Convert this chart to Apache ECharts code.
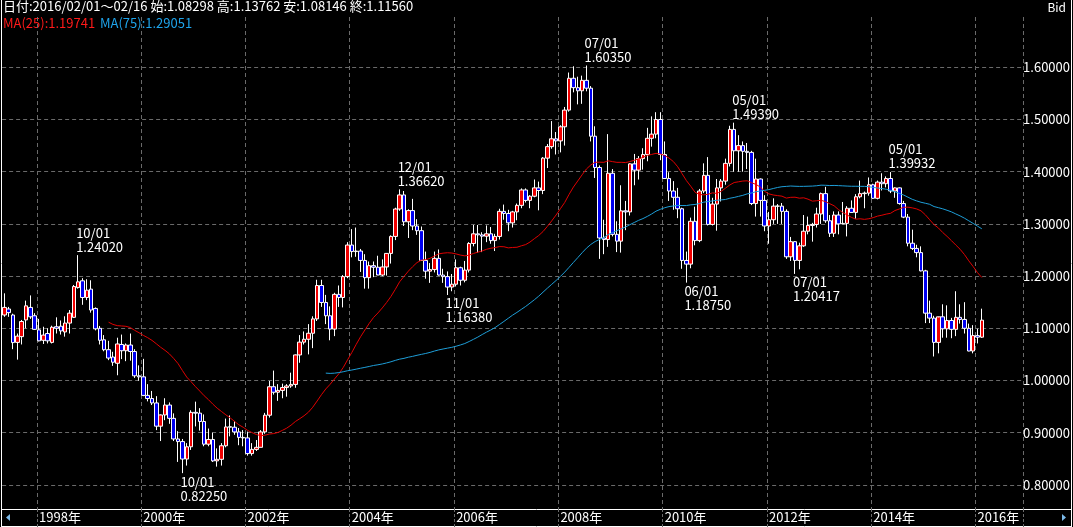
<!DOCTYPE html>
<html><head><meta charset="utf-8">
<script src="https://cdn.jsdelivr.net/npm/echarts@6/dist/echarts.min.js"></script>
<style>html,body{margin:0;padding:0;background:#000;}#c{width:1073px;height:527px;}</style>
</head><body><div id="c"></div>
<script>
// ---- categories: monthly, 1997/05 .. 2016/02 (data) + empty months to fill the plot ----
const START_YEAR = 1997, START_MONTH = 5, N_CATS = 235;
const months = [];
for (let k = 0; k < N_CATS; k++) {
  const m = START_MONTH - 1 + k;
  months.push((START_YEAR + Math.floor(m / 12)) + '/' + String(m % 12 + 1).padStart(2, '0'));
}

// ---- monthly OHLC (EUR/USD Bid) ----
const opens = [
1.1255,1.1370,1.1255,1.0730,1.0840,1.1160,1.1400,1.1240,1.0970,1.0770,1.0900,1.0730,1.1030,1.1040,1.0930,1.1100,1.1210,1.1780,1.1910,1.1590,
1.1750,1.1380,1.1000,1.0780,1.0590,1.0450,1.0330,1.0690,1.0570,1.0680,1.0555,1.0090,
1.0070,0.9715,0.9655,0.9570,0.9125,0.9340,0.9530,0.9275,0.8880,0.8830,0.8495,0.8730,
0.9390,0.9375,0.9215,0.8780,0.8870,0.8460,0.8490,0.8750,0.9115,0.9105,0.9015,0.8910,
0.8900,0.8600,0.8680,0.8720,0.9015,0.9335,0.9880,0.9775,0.9810,0.9865,0.9895,0.9925,
1.0490,1.0735,1.0790,1.0905,1.1180,1.1820,1.1495,1.1240,1.0985,1.1650,1.1590,1.1990,
1.2595,1.2470,1.2480,1.2300,1.1970,1.2200,1.2170,1.2020,1.2175,1.2435,1.2760,1.3285,
1.3555,1.3040,1.3255,1.2960,1.2870,1.2300,1.2095,1.2125,1.2340,1.2020,1.1990,1.1790,
1.1845,1.2160,1.1920,1.2115,1.2625,1.2810,1.2790,1.2765,1.2810,1.2680,1.2760,1.3240,
1.3200,1.3020,1.3230,1.3355,1.3650,1.3450,1.3530,1.3690,1.3640,1.4260,1.4480,1.4630,
1.4590,1.4860,1.5180,1.5790,1.5610,1.5550,1.5750,1.5600,1.4680,1.4080,1.2730,1.2700,
1.3970,1.2800,1.2670,1.3250,1.3230,1.4150,1.4030,1.4250,1.4330,1.4640,1.4720,1.5000,
1.4330,1.3870,1.3630,1.3510,1.3290,1.2300,1.2230,1.3050,1.2680,1.3630,1.3930,1.2990,
1.3380,1.3690,1.3820,1.4160,1.4810,1.4400,1.4500,1.4390,1.4370,1.3390,1.3860,1.3450,
1.2960,1.3080,1.3340,1.3340,1.3240,1.2370,1.2660,1.2300,1.2580,1.2860,1.2970,1.2990,
1.3190,1.3580,1.3060,1.2820,1.3170,1.3000,1.3010,1.3300,1.3220,1.3520,1.3580,1.3590,
1.3750,1.3490,1.3800,1.3770,1.3870,1.3630,1.3690,1.3390,1.3130,1.2630,1.2530,1.2450,
1.2100,1.1290,1.1195,1.0730,1.1220,1.0990,1.1150,1.0980,1.1210,1.1170,1.1000,1.0565,
1.0860,1.08298];
const highs = [
1.1670,1.1410,1.1280,1.0900,1.1160,1.1530,1.1630,1.1290,1.1180,1.1030,1.1000,1.1050,1.1210,1.1150,1.1230,1.1350,1.1830,1.2402,1.1960,1.1940,
1.1920,1.1400,1.1045,1.0870,1.0760,1.0550,1.0820,1.0880,1.0710,1.0900,1.0600,1.0290,
1.0415,0.9930,0.9800,0.9700,0.9350,0.9660,0.9580,0.9370,0.9030,0.8880,0.8800,0.9430,
0.9595,0.9470,0.9350,0.9080,0.9000,0.8700,0.8800,0.9270,0.9330,0.9220,0.9090,0.9050,
0.9020,0.8800,0.8860,0.9050,0.9380,0.9990,1.0190,0.9930,0.9940,0.9930,1.0150,1.0500,
1.0870,1.0940,1.1080,1.1230,1.1930,1.1930,1.1640,1.1420,1.1680,1.1820,1.2020,1.2650,
1.2900,1.2930,1.2520,1.2420,1.2280,1.2280,1.2390,1.2320,1.2440,1.2780,1.3310,1.3662,
1.3630,1.3280,1.3480,1.3090,1.2950,1.2470,1.2250,1.2470,1.2510,1.2140,1.2090,1.2040,
1.2320,1.2180,1.2290,1.2650,1.2980,1.2980,1.2840,1.2970,1.2940,1.2810,1.3290,1.3370,
1.3270,1.3250,1.3390,1.3680,1.3680,1.3550,1.3850,1.3810,1.4280,1.4530,1.4970,1.4760,
1.4890,1.5240,1.5900,1.6020,1.5820,1.5840,1.6035,1.5640,1.4870,1.4120,1.3080,1.4720,
1.4050,1.3050,1.3740,1.3440,1.4160,1.4340,1.4300,1.4450,1.4840,1.5060,1.5140,1.5140,
1.4580,1.3990,1.3820,1.3690,1.3310,1.2470,1.3120,1.3330,1.3670,1.4160,1.4280,1.3500,
1.3860,1.3860,1.4250,1.4880,1.4939,1.4700,1.4580,1.4550,1.4400,1.4250,1.3870,1.3550,
1.3230,1.3490,1.3380,1.3400,1.3280,1.2750,1.2670,1.2640,1.3170,1.3140,1.3020,1.3310,
1.3600,1.3710,1.3170,1.3240,1.3240,1.3420,1.3340,1.3450,1.3570,1.3830,1.3620,1.3890,
1.3770,1.3830,1.3970,1.3910,1.39932,1.3700,1.3700,1.3440,1.3190,1.2890,1.2600,1.2570,
1.2120,1.1530,1.1240,1.1210,1.1460,1.1440,1.1200,1.1710,1.1460,1.1500,1.1090,1.1060,
1.0990,1.13762];
const lows = [
1.1220,1.1220,1.0600,1.0400,1.0690,1.1000,1.1180,1.0970,1.0750,1.0700,1.0710,1.0710,1.0900,1.0880,1.0840,1.0900,1.1200,1.1760,1.1450,1.1540,
1.1300,1.0960,1.0690,1.0560,1.0390,1.0280,1.0100,1.0410,1.0370,1.0380,1.0050,0.9995,
0.9700,0.9600,0.9530,0.9050,0.8840,0.9240,0.9170,0.8840,0.8440,0.8225,0.8370,0.8670,
0.9120,0.9040,0.8740,0.8740,0.8440,0.8350,0.8370,0.8720,0.8930,0.8960,0.8760,0.8740,
0.8560,0.8560,0.8650,0.8720,0.8980,0.9290,0.9730,0.9610,0.9660,0.9690,0.9860,0.9860,
1.0340,1.0690,1.0500,1.0620,1.1140,1.1410,1.1080,1.0770,1.0850,1.1410,1.1400,1.1960,
1.2360,1.2370,1.2080,1.1760,1.1760,1.1980,1.2030,1.2000,1.2010,1.2240,1.2690,1.3250,
1.2960,1.2730,1.2880,1.2790,1.2290,1.1950,1.1870,1.2070,1.2010,1.1870,1.1638,1.1710,
1.1800,1.1820,1.1880,1.2070,1.2570,1.2450,1.2460,1.2650,1.2620,1.2480,1.2700,1.3080,
1.2860,1.2930,1.3070,1.3300,1.3410,1.3300,1.3510,1.3260,1.3570,1.4070,1.4440,1.4330,
1.4370,1.4500,1.5150,1.5520,1.5290,1.5300,1.5540,1.4580,1.3880,1.2330,1.2420,1.2560,
1.2760,1.2460,1.2450,1.2880,1.3160,1.3740,1.3850,1.4040,1.4200,1.4480,1.4640,1.4220,
1.3860,1.3440,1.3270,1.3110,1.2140,1.1875,1.2150,1.2590,1.2650,1.3590,1.2970,1.2970,
1.2870,1.3430,1.3750,1.4100,1.4000,1.4000,1.4000,1.4050,1.3360,1.3140,1.3140,1.2860,
1.2620,1.3000,1.3000,1.3000,1.2330,1.2290,1.20417,1.2130,1.2560,1.2800,1.2660,1.2930,
1.3000,1.3020,1.2750,1.2750,1.2800,1.3000,1.2760,1.3210,1.3100,1.3490,1.3300,1.3540,
1.3480,1.3470,1.3640,1.3700,1.3590,1.3500,1.3370,1.3110,1.2570,1.2500,1.2360,1.2090,
1.1100,1.1100,1.0460,1.0520,1.0820,1.0820,1.0810,1.0850,1.1090,1.0900,1.0560,1.0520,
1.0710,1.08146];
const closes = [
1.1400,1.1300,1.0726,1.0850,1.1130,1.1430,1.1220,1.0980,1.0760,1.0870,1.0760,1.1020,1.1000,1.0950,1.1100,1.1290,1.1800,1.1890,1.1590,1.1730,
1.1350,1.0990,1.0770,1.0590,1.0430,1.0350,1.0700,1.0570,1.0680,1.0555,1.0090,1.0070,
0.9715,0.9655,0.9570,0.9125,0.9340,0.9530,0.9275,0.8880,0.8830,0.8495,0.8730,0.9390,
0.9375,0.9215,0.8780,0.8870,0.8460,0.8490,0.8750,0.9110,0.9105,0.9015,0.8910,0.8900,
0.8600,0.8680,0.8720,0.9015,0.9335,0.9880,0.9775,0.9810,0.9865,0.9895,0.9925,1.0490,
1.0735,1.0790,1.0905,1.1180,1.1820,1.1495,1.1240,1.0985,1.1650,1.1590,1.1990,1.2595,
1.2470,1.2480,1.2300,1.1970,1.2200,1.2170,1.2020,1.2175,1.2435,1.2760,1.3285,1.3555,
1.3040,1.3255,1.2960,1.2870,1.2300,1.2095,1.2125,1.2340,1.2020,1.1990,1.1790,1.1845,
1.2160,1.1920,1.2115,1.2625,1.2810,1.2790,1.2765,1.2810,1.2680,1.2760,1.3240,1.3200,
1.3020,1.3230,1.3355,1.3650,1.3450,1.3530,1.3690,1.3640,1.4260,1.4480,1.4630,1.4590,
1.4860,1.5180,1.5790,1.5610,1.5550,1.5750,1.5600,1.4680,1.4080,1.2730,1.2700,1.3970,
1.2800,1.2670,1.3250,1.3230,1.4150,1.4030,1.4250,1.4330,1.4640,1.4720,1.5000,1.4330,
1.3870,1.3630,1.3510,1.3290,1.2300,1.2230,1.3050,1.2680,1.3630,1.3930,1.2990,1.3380,
1.3690,1.3820,1.4160,1.4810,1.4400,1.4500,1.4390,1.4370,1.3390,1.3860,1.3450,1.2960,
1.3080,1.3340,1.3340,1.3240,1.2370,1.2660,1.2300,1.2580,1.2860,1.2970,1.2990,1.3190,
1.3580,1.3060,1.2820,1.3170,1.3000,1.3010,1.3300,1.3220,1.3520,1.3580,1.3590,1.3750,
1.3490,1.3800,1.3770,1.3870,1.3630,1.3690,1.3390,1.3130,1.2630,1.2530,1.2450,1.2100,
1.1290,1.1195,1.0730,1.1220,1.0990,1.1150,1.0980,1.1210,1.1170,1.1000,1.0565,1.0860,
1.0830,1.1156];

// ---- annotated extremes ----
const peakMonths = ['1998/10', '2004/12', '2008/07', '2011/05', '2014/05'];
const troughMonths = ['2000/10', '2005/11', '2010/06', '2012/07'];

// ---- header texts ----
const headerPeriod = '日付:2016/02/01～02/16';
const maLegend = ['MA(25):1.19741', 'MA(75):1.29051'];

const FONT = '"Noto Sans CJK JP", "Noto Sans", sans-serif';
const UP = '#f00000', DOWN = '#0000f0';
const MA25C = '#e00000', MA75C = '#1e9ed8';
const GRIDC = '#6a6a6a';

const ohlc = opens.map((o, i) => [o, closes[i], lows[i], highs[i]]);
function sma(n) {
  return closes.map((_, i) => {
    if (i < n - 1) return '-';
    let s = 0; for (let k = i - n + 1; k <= i; k++) s += closes[k];
    return +(s / n).toFixed(5);
  });
}
const isYearTick = (idx, val) => {
  const v = typeof val === 'string' ? val : months[idx];
  return v.endsWith('/01') && parseInt(v, 10) % 2 === 0;
};

const marks = [];
peakMonths.forEach(m => {
  const i = months.indexOf(m), v = highs[i];
  marks.push({ coord: [m, v], label: { position: 'top', formatter: m.slice(5) + '/01\n' + v.toFixed(5) } });
});
troughMonths.forEach(m => {
  const i = months.indexOf(m), v = lows[i];
  marks.push({ coord: [m, v], label: { position: 'bottom', formatter: m.slice(5) + '/01\n' + v.toFixed(5) } });
});

// plot geometry: y = 380.5 - (v-1)*522 ; grid top 17, bottom 509
const GTOP = 17, GBOT = 509, PXU = 522, Y1 = 380.5;
const yMax = 1 + (Y1 - GTOP) / PXU, yMin = 1 - (GBOT - Y1) / PXU;

const last = opens.length - 1;
const headerText = headerPeriod + ' 始:' + opens[last].toFixed(5) + ' 高:' + highs[last].toFixed(5) +
  ' 安:' + lows[last].toFixed(5) + ' 終:' + closes[last].toFixed(5);

const chart = echarts.init(document.getElementById('c'));
chart.setOption({
  backgroundColor: '#000',
  animation: false,
  grid: { left: 2.125, top: GTOP, width: 1022.25, height: GBOT - GTOP },
  xAxis: {
    type: 'category', data: months, boundaryGap: true,
    axisLine: { show: false },
    axisTick: { show: true, interval: isYearTick, length: 18, lineStyle: { color: GRIDC, type: [3, 2] } },
    axisLabel: { interval: isYearTick, formatter: v => v.slice(0, 4) + '年', color: '#fff', fontSize: 13,
      fontFamily: FONT, align: 'left', margin: 2 },
    splitLine: { show: true, interval: isYearTick, lineStyle: { color: GRIDC, type: [4, 3], width: 1 } }
  },
  yAxis: {
    type: 'value', position: 'right', min: yMin, max: yMax, splitNumber: 10,
    axisLine: { show: false }, axisTick: { show: false },
    axisLabel: { showMinLabel: false, showMaxLabel: false, formatter: v => v.toFixed(5), color: '#fff',
      fontSize: 13, fontFamily: FONT, margin: 0 },
    splitLine: { show: true, showMinLine: false, showMaxLine: false, lineStyle: { color: GRIDC, type: [4, 3], width: 1 } }
  },
  series: [
    {
      type: 'candlestick', data: ohlc, barWidth: 4,
      itemStyle: { color: UP, color0: DOWN, borderColor: '#fff', borderColor0: '#fff', borderWidth: 1 },
      markPoint: {
        symbol: 'circle', symbolSize: 1, itemStyle: { color: 'rgba(0,0,0,0)' },
        label: { color: '#fff', fontSize: 13, fontFamily: FONT, lineHeight: 14, align: 'left', distance: 1, offset: [-2, 0] },
        data: marks
      }
    },
    { type: 'line', data: sma(25), symbol: 'none', lineStyle: { color: MA25C, width: 1 }, z: 3 },
    { type: 'line', data: sma(75), symbol: 'none', lineStyle: { color: MA75C, width: 1 }, z: 3 }
  ],
  graphic: [
    { type: 'text', left: 3, top: 0, style: { text: headerText, fill: '#fff', font: '13px ' + FONT } },
    { type: 'text', left: 3, top: 17, style: { text: maLegend[0], fill: '#ff1a1a', font: '13px ' + FONT } },
    { type: 'text', left: 100, top: 17, style: { text: maLegend[1], fill: '#1ea3ea', font: '13px ' + FONT } },
    { type: 'text', right: 7, top: 1, style: { text: 'Bid', fill: '#fff', font: '12px ' + FONT } },
    { type: 'line', shape: { x1: 1.5, y1: 0, x2: 1.5, y2: 527 }, style: { stroke: '#fff', lineWidth: 1 } },
    { type: 'line', shape: { x1: 1071.5, y1: 0, x2: 1071.5, y2: 527 }, style: { stroke: '#fff', lineWidth: 1 } },
    { type: 'line', shape: { x1: 1, y1: 509.5, x2: 1072, y2: 509.5 }, style: { stroke: '#fff', lineWidth: 1 } },
    { type: 'line', shape: { x1: 1, y1: 526.5, x2: 1072, y2: 526.5 }, style: { stroke: '#fff', lineWidth: 1 } },
    { type: 'polygon', shape: { points: [[6, 517.5], [10, 514], [10, 521]] }, style: { fill: '#7ab8e8' } },
    { type: 'polygon', shape: { points: [[1062, 514], [1062, 521], [1066, 517.5]] }, style: { fill: '#7ab8e8' } }
  ]
});
</script></body></html>
